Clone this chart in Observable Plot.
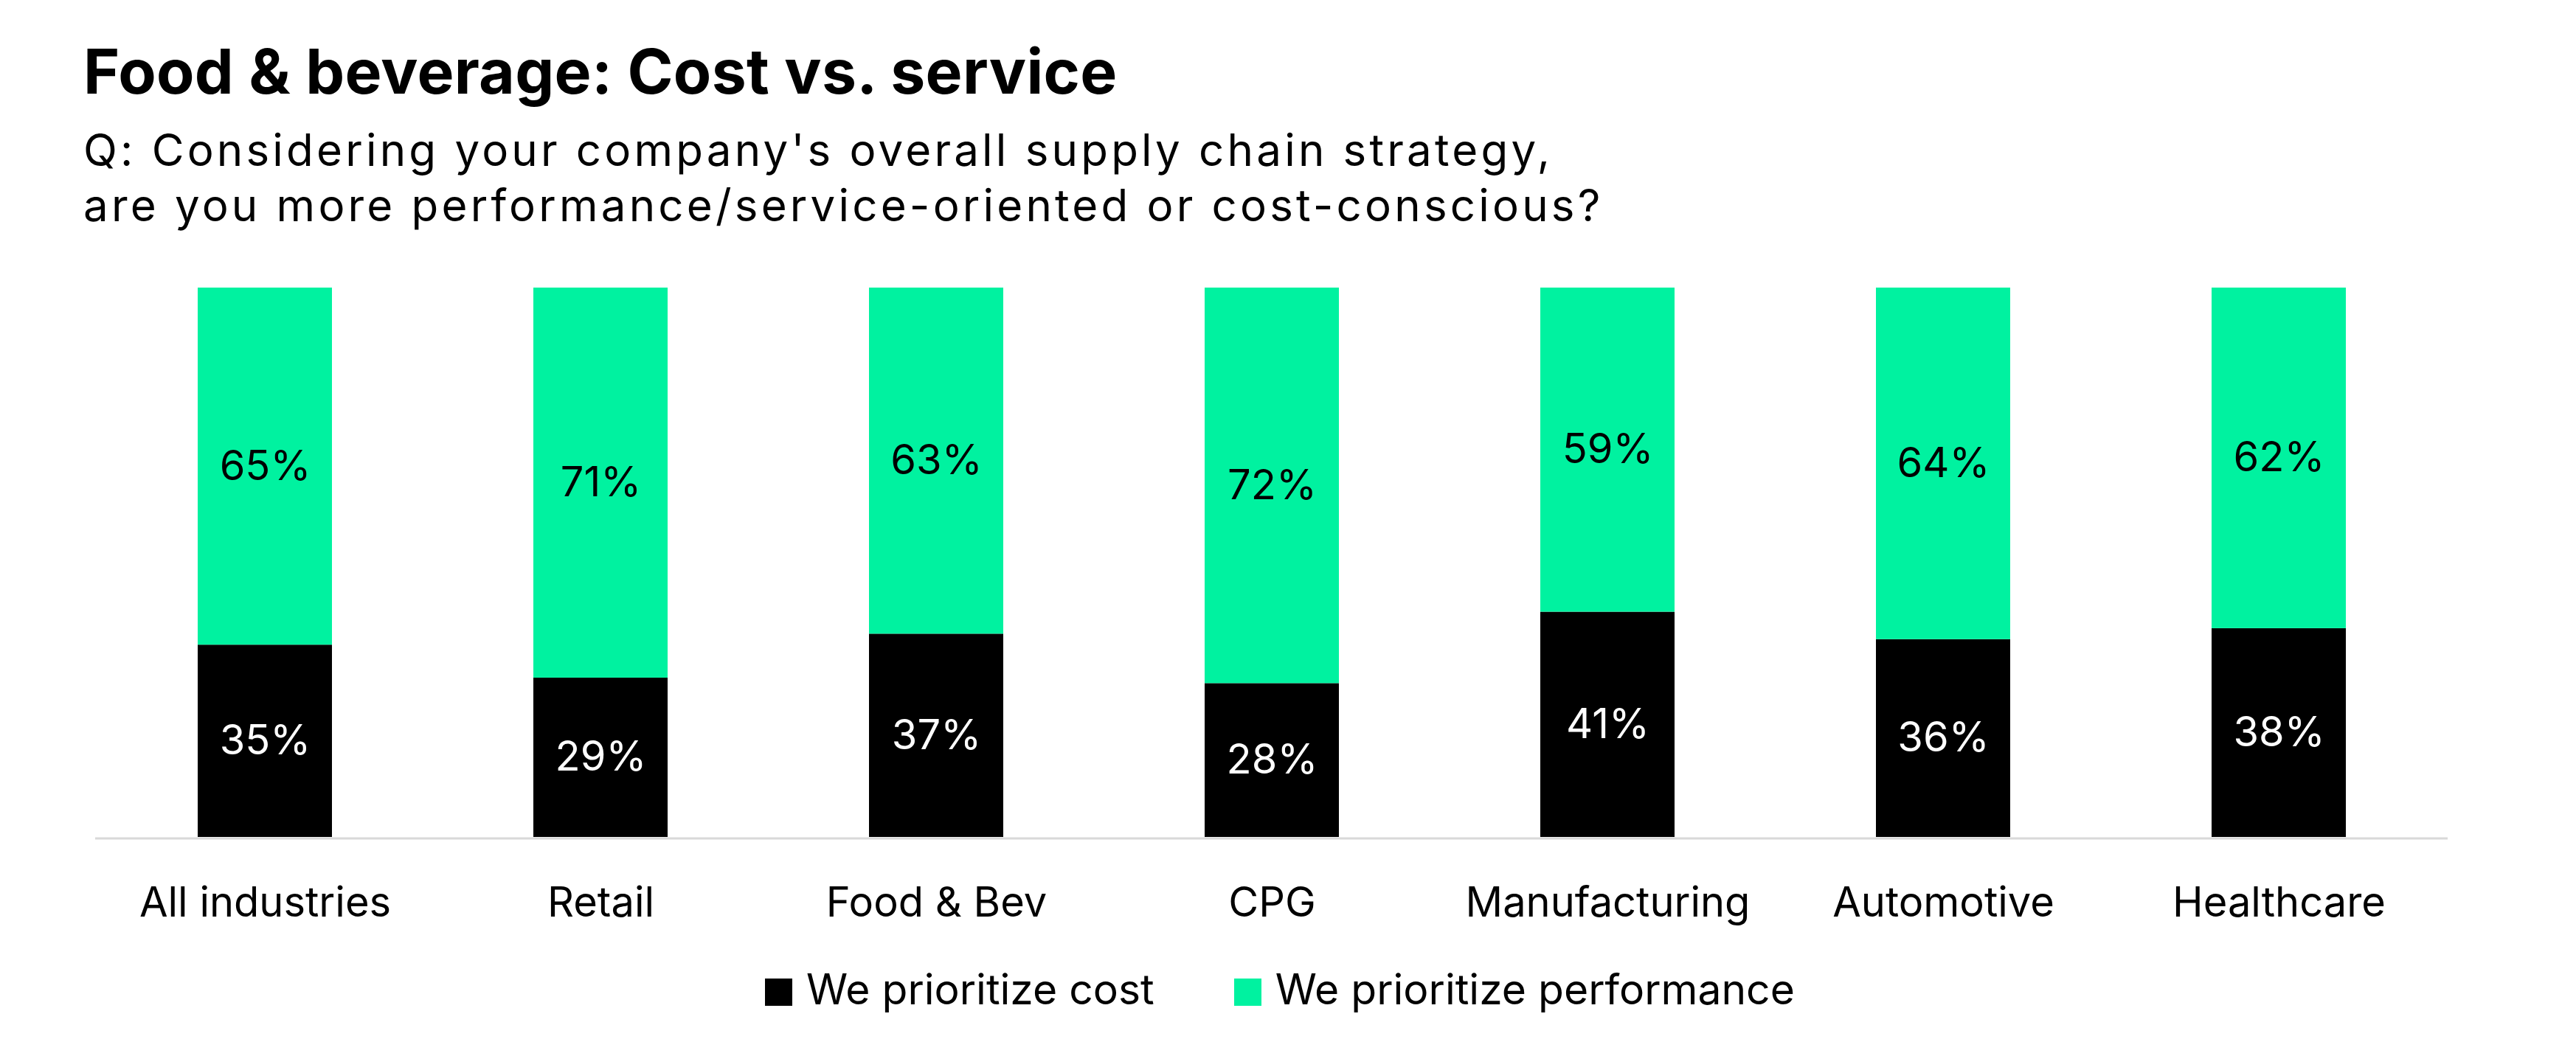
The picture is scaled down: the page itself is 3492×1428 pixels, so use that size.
<!DOCTYPE html>
<html>
<head>
<meta charset="utf-8">
<script src="https://cdn.jsdelivr.net/npm/d3@7"></script>
<script src="https://cdn.jsdelivr.net/npm/@observablehq/plot@0.6"></script>
<style>
  html, body { margin: 0; padding: 0; background: #fff; }
  body { width: 3492px; height: 1428px; position: relative; overflow: hidden; font-family: "Inter", sans-serif; color: #000; }
  #title { position: absolute; left: 113px; top: 46px; font-size: 84px; font-weight: 700; line-height: normal; white-space: nowrap; letter-spacing: 0.3px; }
  #subtitle { position: absolute; left: 113px; top: 166px; font-size: 60px; font-weight: 400; line-height: 75px; white-space: nowrap; letter-spacing: 4.2px; }
  #chart { position: absolute; left: 0; top: 360px; }
  #legend { position: absolute; left: 1037px; top: 1313px; display: flex; align-items: flex-start; font-size: 57px; line-height: 57px; }
  .item { display: flex; align-items: flex-start; margin-right: 108px; }
  .sw { width: 37px; height: 37px; margin-top: 14px; margin-right: 19px; }
</style>
</head>
<body>
<div id="title"></div>
<div id="subtitle"></div>
<div id="chart"></div>
<div id="legend"></div>
<script>
const titleText = "Food & beverage: Cost vs. service";
const subtitleLines = [
  "Q: Considering your company's overall supply chain strategy,",
  "are you more performance/service-oriented or cost-conscious?"
];
const categories = ["All industries", "Retail", "Food & Bev", "CPG", "Manufacturing", "Automotive", "Healthcare"];
const seriesNames = ["We prioritize cost", "We prioritize performance"];
const costValues = [35, 29, 37, 28, 41, 36, 38];
const performanceValues = [65, 71, 63, 72, 59, 64, 62];
const seriesColors = ["#000000", "#00f2a0"];

const data = [];
categories.forEach((c, i) => {
  data.push({category: c, series: seriesNames[0], value: costValues[i]});
  data.push({category: c, series: seriesNames[1], value: performanceValues[i]});
});

document.getElementById("title").textContent = titleText;
document.getElementById("subtitle").innerHTML = subtitleLines.map(s => s.replace(/&/g, "&amp;")).join("<br>");

const fs = 56;
const chart = Plot.plot({
  width: 3492,
  height: 920,
  marginTop: 30,
  marginBottom: 145,
  marginLeft: 129,
  marginRight: 174,
  style: {fontFamily: "Inter, sans-serif", fontSize: fs + "px", background: "white", color: "black"},
  x: {domain: categories, paddingInner: 0.6, paddingOuter: 0.3, label: null},
  y: {domain: [0, 100], axis: null},
  color: {domain: seriesNames, range: seriesColors},
  marks: [
    Plot.ruleY([0], {stroke: "#d9d9d9", strokeWidth: 3, dy: 1.5}),
    Plot.barY(data, Plot.stackY({x: "category", y: "value", z: "series", fill: "series", order: seriesNames})),
    Plot.text(data, Plot.stackY({x: "category", y: "value", z: "series", order: seriesNames,
      text: d => d.series === seriesNames[0] ? d.value + "%" : null, fill: "white", fontSize: fs})),
    Plot.text(data, Plot.stackY({x: "category", y: "value", z: "series", order: seriesNames,
      text: d => d.series === seriesNames[1] ? d.value + "%" : null, fill: "black", fontSize: fs})),
    Plot.axisX({tickSize: 0, tickPadding: 68, fontSize: fs, label: null, fill: "black"})
  ]
});
document.getElementById("chart").appendChild(chart);

const legend = document.getElementById("legend");
seriesNames.forEach((name, i) => {
  const item = document.createElement("div");
  item.className = "item";
  const sw = document.createElement("span");
  sw.className = "sw";
  sw.style.background = seriesColors[i];
  const t = document.createElement("span");
  t.textContent = name;
  item.appendChild(sw);
  item.appendChild(t);
  legend.appendChild(item);
});
</script>
</body>
</html>
